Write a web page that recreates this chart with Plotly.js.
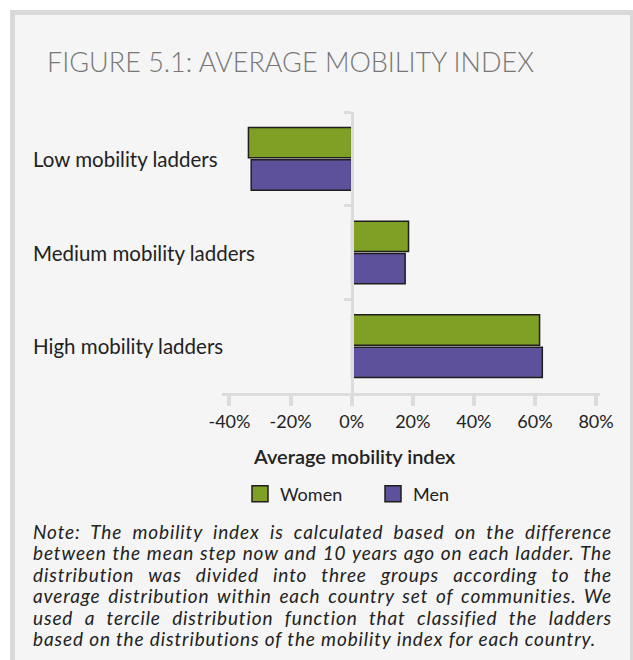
<!DOCTYPE html>
<html>
<head>
<meta charset="utf-8">
<script src="https://cdn.plot.ly/plotly-3.0.1.min.js"></script>
<style>
html,body{margin:0;padding:0;background:#ffffff;}
#chart{width:633px;height:660px;}
</style>
</head>
<body>
<div id="chart"></div>
<script>
// ---- data ----
const categories = ["Low mobility ladders", "Medium mobility ladders", "High mobility ladders"];
const women = [-33.8, 18.6, 61.5];
const men = [-32.9, 17.5, 62.4];
const seriesNames = ["Women", "Men"];
const tickValues = [-40, -20, 0, 20, 40, 60, 80];
const tickLabels = ["-40%", "-20%", "0%", "20%", "40%", "60%", "80%"];
const titleText = "FIGURE 5.1: AVERAGE MOBILITY INDEX";
const axisTitle = "Average mobility index";
const noteLines = [
  "Note: The mobility index is calculated based on the difference",
  "between the mean step now and 10 years ago on each ladder. The",
  "distribution was divided into three groups according to the",
  "average distribution within each country set of communities. We",
  "used a tercile distribution function that classified the ladders",
  "based on the distributions of the mobility index for each country."
];

// ---- geometry helpers (plot area in pixels) ----
const W = 633, H = 660;
const L = 222, R = 600, T = 112, B = 393;
const px = x => (x - L) / (R - L);
const py = y => (B - y) / (B - T);

const FONT = "Lato, 'Open Sans', sans-serif";
const greyLine = "#dcdcdc";
const colors = ["#7f9f25", "#5c519a"];
const edge = {color: "#1e1e1e", width: 1.5};

const traces = [
  {type: "bar", orientation: "h", name: seriesNames[0], y: categories, x: women, showlegend: false,
   marker: {color: colors[0], line: edge}, hoverinfo: "x+y"},
  {type: "bar", orientation: "h", name: seriesNames[1], y: categories, x: men, showlegend: false,
   marker: {color: colors[1], line: edge}, hoverinfo: "x+y"},
  // legend keys (larger square swatches)
  {type: "scatter", mode: "markers", name: seriesNames[0], x: [null], y: [null], showlegend: true,
   marker: {symbol: "square", size: 16, color: colors[0], line: edge}, hoverinfo: "skip"},
  {type: "scatter", mode: "markers", name: seriesNames[1], x: [null], y: [null], showlegend: true,
   marker: {symbol: "square", size: 16, color: colors[1], line: edge}, hoverinfo: "skip"}
];

const annotations = categories.map(c => ({
  text: c, xref: "paper", x: px(31), xanchor: "left", yref: "y", y: c, yanchor: "middle",
  showarrow: false, font: {family: FONT, size: 20.5, color: "#222"}
}));
annotations.push({
  text: axisTitle, xref: "paper", x: px(354), xanchor: "center", yref: "paper", y: py(456), yanchor: "middle",
  showarrow: false, font: {family: FONT, size: 20, color: "#222", weight: 600}
});
noteLines.forEach((line, i) => annotations.push({
  text: line, xref: "paper", x: px(31), xanchor: "left", yref: "paper", y: py(531 + i * 21.5), yanchor: "middle",
  align: "left", showarrow: false, font: {family: FONT, size: 19, color: "#222", style: "italic"},
  name: "note" + i
}));

const layout = {
  width: W, height: H,
  margin: {l: L, r: W - R, t: T, b: H - B, pad: 0},
  paper_bgcolor: "#ffffff",
  plot_bgcolor: "rgba(0,0,0,0)",
  title: {text: titleText, xref: "container", yref: "container", x: 47 / W, xanchor: "left",
          y: 1 - 63 / H, yanchor: "middle", font: {family: FONT, size: 27, color: "#777777", weight: 300}},
  barmode: "group", bargap: 0.31, bargroupgap: 0.06,
  xaxis: {range: [-42.45, 81.28], tickvals: tickValues, ticktext: tickLabels,
          ticks: "outside", ticklen: 10, tickwidth: 4, tickcolor: greyLine,
          showline: true, linewidth: 3, linecolor: greyLine, zeroline: false, showgrid: false,
          tickfont: {family: FONT, size: 18, color: "#222"}, fixedrange: true},
  yaxis: {type: "category", autorange: "reversed", anchor: "free", position: px(351.7),
          showticklabels: false, ticks: "outside", tickson: "boundaries", ticklen: 7, tickwidth: 3, tickcolor: greyLine,
          showline: true, linewidth: 3.5, linecolor: greyLine, showgrid: false, zeroline: false, fixedrange: true},
  showlegend: true,
  legend: {orientation: "h", x: px(240), xanchor: "left", y: py(494), yanchor: "middle",
           font: {family: FONT, size: 18, color: "#222"}, bgcolor: "rgba(0,0,0,0)", traceorder: "normal",
           itemsizing: "trace", entrywidth: 88, entrywidthmode: "pixels"},
  shapes: [{type: "rect", xref: "paper", yref: "paper", layer: "below",
            x0: px(12.5), x1: px(632.5), y0: py(12.5), y1: py(670),
            line: {color: "#d9d9d9", width: 5}, fillcolor: "#f5f5f5"}],
  annotations: annotations
};

Plotly.newPlot("chart", traces, layout, {displayModeBar: false, staticPlot: true}).then(gd => {
  // justify the note like the printed figure: widen letters to match, then spread words
  const texts = Array.from(gd.querySelectorAll("text.annotation-text"));
  const noteEls = noteLines.map(line => texts.find(t => t.textContent === line));
  if (noteEls.some(e => !e)) return;
  const lastEl = noteEls[noteEls.length - 1];
  const lastTarget = 562, fullTarget = 579;
  const w0 = lastEl.getBBox().width;
  const n = noteLines[noteLines.length - 1].length;
  const ls = Math.max(0, (lastTarget - w0) / (n - 1));
  noteEls.forEach((el, i) => {
    el.style.letterSpacing = ls.toFixed(2) + "px";
    if (i < noteEls.length - 1) {
      const w = el.getBBox().width;
      const spaces = (noteLines[i].match(/ /g) || []).length;
      if (spaces > 0) el.style.wordSpacing = ((fullTarget - w) / spaces).toFixed(2) + "px";
    }
  });
});
</script>
</body>
</html>
